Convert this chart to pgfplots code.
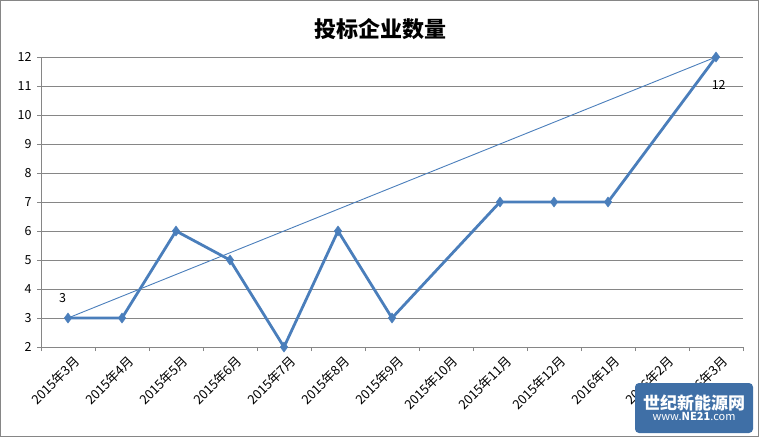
\documentclass[border=0pt]{standalone}
\usepackage{pgfplots}
\pgfplotsset{compat=1.18}
\usepackage{fontspec}
\setmainfont{Noto Sans CJK SC}
\definecolor{serblue}{HTML}{4A7EBB}
\definecolor{axgray}{HTML}{868686}
\definecolor{wmblue}{HTML}{3F6FA6}
\begin{document}
\begin{tikzpicture}
\useasboundingbox (-41pt,-90pt) rectangle (718pt,347pt);
\draw[axgray, line width=1pt] (-40pt,-89pt) rectangle (717pt,346pt);
\begin{axis}[
  at={(0,0)}, anchor=south west,
  scale only axis, width=702pt, height=290pt,
  xmin=-0.5, xmax=12.5, ymin=2, ymax=12,
  axis x line*=bottom, axis y line*=left,
  axis line style={-, axgray, line width=0.8pt},
  xtick={0,...,12},
  xticklabels={2015年3月,2015年4月,2015年5月,2015年6月,2015年7月,2015年8月,2015年9月,2015年10月,2015年11月,2015年12月,2016年1月,2016年2月,2016年3月},
  major x tick style={draw=none},
  minor xtick={-0.5,0.5,...,12.5},
  minor tick length=4pt,
  minor x tick style={axgray, line width=0.8pt},
  ytick={2,...,12},
  major tick length=4pt,
  tick align=outside,
  y tick style={axgray, line width=0.8pt},
  ymajorgrids, grid style={axgray, line width=0.8pt},
  xticklabel style={rotate=45, anchor=east, font=\fontsize{13}{13}\selectfont, xshift=5pt, yshift=-12pt},
  yticklabel style={font=\fontsize{12.5}{12.5}\selectfont, xshift=-2pt},
  /pgf/number format/assume math mode=true,
  clip=false,
]
\addplot[serblue, line width=0.9pt, forget plot] coordinates {(0,3) (12,12)};
\addplot[serblue, line width=2.8pt, mark=diamond*, mark size=5pt, mark options={line width=0.5pt}]
  coordinates {
  (0,3) (1,3) (2,6) (3,5) (4,2) (5,6) (6,3) (8,7) (9,7) (10,7) (12,12)
  };
\node[font=\fontsize{12.5}{12.5}\selectfont] at (axis cs:-0.1,3.7) {3};
\node[font=\fontsize{12.5}{12.5}\selectfont] at (axis cs:12.05,11.05) {12};
\end{axis}
\node[font=\fontsize{22}{22}\selectfont\bfseries] at (339pt,318pt) {投标企业数量};
\node[fill=wmblue, rounded corners=4pt, text=white, inner sep=2pt, minimum width=118pt, minimum height=50pt, align=center] at (653pt,-61pt)
  {{\fontsize{17}{18}\selectfont\bfseries 世纪新能源网}\\[-1pt]{\fontsize{11}{12}\selectfont www.\textbf{NE21}.com}};
\end{tikzpicture}
\end{document}
